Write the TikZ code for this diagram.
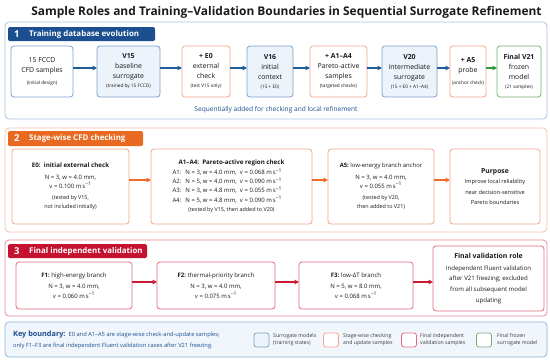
\documentclass[tikz,border=0pt]{standalone}
\usepackage{fontspec}
\setmainfont{Open Sans}
\usetikzlibrary{arrows.meta,calc}
\definecolor{hBlue}{HTML}{1B4F8F}
\definecolor{hOrange}{HTML}{E8691F}
\definecolor{hRed}{HTML}{C4122F}
\definecolor{bBlue}{HTML}{7AA0CC}
\definecolor{fBlue}{HTML}{EDF3FA}
\definecolor{pBlue}{HTML}{A9C3E0}
\definecolor{bOrange}{HTML}{F5A48A}
\definecolor{pOrange}{HTML}{F7C4AE}
\definecolor{bRed}{HTML}{E46A80}
\definecolor{pRed}{HTML}{E88A99}
\definecolor{bGreen}{HTML}{72B072}
\definecolor{aBlue}{HTML}{1E5C9E}
\definecolor{aOrange}{HTML}{F06A28}
\definecolor{aRed}{HTML}{CC1B35}
\definecolor{aGreen}{HTML}{2F9A3C}
\definecolor{txt}{HTML}{1A1A1A}
\definecolor{lgFill}{HTML}{F1F6FC}
\definecolor{lgBorder}{HTML}{8FB3D9}
\newcommand\smtxt[1]{{\fontsize{4.7}{6}\selectfont #1}}
\newcommand\msu{m\,s\textsuperscript{−1}}
\begin{document}
\begin{tikzpicture}[x=1pt,y=-1pt,
  panel/.style={draw, rounded corners=4pt, line width=0.8pt, inner sep=0pt, outer sep=0pt, anchor=north west},
  hdr/.style={rounded corners=1.5pt, inner sep=0pt, outer sep=0pt, anchor=north west},
  hnum/.style={anchor=west, text=white, font=\fontsize{9.5}{10}\selectfont\bfseries, inner sep=0pt},
  htxt/.style={anchor=west, text=white, font=\fontsize{7.9}{10}\selectfont\bfseries, inner sep=0pt},
  bx/.style={draw, rounded corners=3pt, line width=0.8pt, inner sep=1pt, outer sep=0pt, align=center, text=txt},
  r1/.style={bx, minimum height=51pt, font=\fontsize{6.9}{10}\selectfont},
  r2/.style={bx, minimum height=75pt, font=\fontsize{6}{9.2}\selectfont},
  r3/.style={bx, minimum height=47pt, font=\fontsize{6}{9.5}\selectfont},
  sur/.style={draw=bBlue, fill=fBlue},
  chk/.style={draw=bOrange, fill=white},
  val/.style={draw=bRed, fill=white},
  fin/.style={draw=bGreen, fill=white},
  arr/.style={-{Triangle[length=4.5pt,width=4.5pt]}, line width=1.1pt},
  sw/.style={draw, rounded corners=2.5pt, line width=0.8pt, minimum width=15pt, minimum height=14pt, inner sep=0pt},
  lg/.style={anchor=west, align=left, inner sep=0pt, text=txt!85, font=\fontsize{5.2}{6.8}\selectfont}
]
\useasboundingbox (0,0) rectangle (550,362);
\fill[white] (0,0) rectangle (550,362);

% title
\node[font=\fontsize{11.95}{14}\selectfont\bfseries, text=txt] (title) at (286.5,12) {Sample Roles and Training–Validation Boundaries in Sequential Surrogate Refinement};

% panels
\node[panel, draw=pBlue, fill=white, minimum width=542pt, minimum height=97pt] (p1) at (5,22) {};
\node[panel, draw=pOrange, fill=white, minimum width=542pt, minimum height=104pt] (p2) at (5,128) {};
\node[panel, draw=pRed, fill=white, minimum width=542pt, minimum height=76pt] (p3) at (5,240) {};
\node[panel, draw=lgBorder, fill=lgFill, minimum width=542pt, minimum height=35pt] (p4) at (5,322) {};

% headers
\node[hdr, fill=hBlue, minimum width=147pt, minimum height=14pt] (h1) at (8,27) {};
\node[hnum] (h1n) at (14,34) {1};
\node[htxt] (h1t) at (29,34) {Training database evolution};

\node[hdr, fill=hOrange, minimum width=135pt, minimum height=15pt] (h2) at (8,131) {};
\node[hnum] (h2n) at (14,138.5) {2};
\node[htxt] (h2t) at (29,138.5) {Stage-wise CFD checking};

\node[hdr, fill=hRed, minimum width=139pt, minimum height=14pt] (h3) at (8,244) {};
\node[hnum] (h3n) at (14,251) {3};
\node[htxt] (h3t) at (29,251) {Final independent validation};

% row 1
\node[r1, draw=bBlue, fill=white, minimum width=62pt] (b1) at (42,71.5) {15 FCCD\\CFD samples\\[2pt]\smtxt{(initial design)}};
\node[r1, sur, minimum width=63pt] (b2) at (128.5,71.5) {\textbf{V15}\\baseline\\surrogate\\[-1pt]\smtxt{(trained by 15 FCCD)}};
\node[r1, chk, minimum width=48pt] (b3) at (206,71.5) {\textbf{+ E0}\\external\\check\\[-1pt]\smtxt{(test V15 only)}};
\node[r1, sur, minimum width=46pt] (b4) at (270,71.5) {\textbf{V16}\\initial\\context\\[-1pt]\smtxt{(15 + E0)}};
\node[r1, chk, minimum width=57pt] (b5) at (338.5,71.5) {\textbf{+ A1–A4}\\Pareto-active\\samples\\[-1pt]\smtxt{(targeted checks)}};
\node[r1, sur, minimum width=55pt] (b6) at (409.5,71.5) {\textbf{V20}\\intermediate\\surrogate\\[-1pt]\smtxt{(15 + E0 + A1–A4)}};
\node[r1, chk, minimum width=36pt] (b7) at (468,71.5) {\textbf{+ A5}\\probe\\[2pt]\smtxt{(anchor check)}};
\node[r1, fin, minimum width=44pt] (b8) at (519,71.5) {\textbf{Final V21}\\frozen\\model\\[-1pt]\smtxt{(21 samples)}};

\foreach \a/\b in {b1/b2,b2/b3,b3/b4,b4/b5,b5/b6,b6/b7}
  \draw[arr, aBlue] ([yshift=3.5pt]\a.east) -- ([yshift=3.5pt]\a.east -| \b.west);
\draw[arr, aGreen] ([yshift=3.5pt]b7.east) -- ([yshift=3.5pt]b7.east -| b8.west);

\node[text=hBlue, font=\fontsize{6.6}{8}\selectfont] (seq) at (276,110) {Sequentially added for checking and local refinement};

% row 2
\node[r2, chk, minimum width=117pt] (e0) at (70.5,186.5) {{\fontsize{6.2}{9}\selectfont\bfseries E0:\ \ initial external check}\\[2pt]N = 3, w = 4.0 mm,\\v = 0.100 \msu\\[2pt]{\fontsize{5.4}{9.2}\selectfont (tested by V15,}\\{\fontsize{5.4}{9.2}\selectfont not included initially)}};
\node[r2, chk, minimum width=161pt] (a14) at (231.5,186.5) {\begin{tabular}{@{}l@{\hspace{4pt}}l@{}}
\multicolumn{2}{c}{\fontsize{6.2}{9}\selectfont\bfseries A1–A4:\ \ Pareto-active region check}\\[0.5pt]
A1: & N = 3, w = 4.0 mm,\ \ v = 0.068 \msu\\
A2: & N = 5, w = 4.0 mm,\ \ v = 0.090 \msu\\
A3: & N = 3, w = 4.8 mm,\ \ v = 0.055 \msu\\
A4: & N = 5, w = 4.8 mm,\ \ v = 0.090 \msu\\[0.5pt]
\multicolumn{2}{c}{\fontsize{5.4}{9}\selectfont (tested by V15, then added to V20)}
\end{tabular}};
\node[r2, chk, minimum width=106pt] (a5) at (381,186.5) {{\fontsize{5.9}{9}\selectfont\textbf{A5:}\ low-energy branch anchor}\\[2pt]N = 3, w = 4.0 mm,\\v = 0.055 \msu\\[2pt]{\fontsize{5.4}{9.2}\selectfont (tested by V20,}\\{\fontsize{5.4}{9.2}\selectfont then added to V21)}};
\node[r2, chk, minimum width=90pt, font=\fontsize{5.6}{10.5}\selectfont] (pur) at (495,186.5) {{\fontsize{6.8}{10}\selectfont\bfseries Purpose}\\Improve local reliability\\near decision-sensitive\\Pareto boundaries};

\draw[arr, aOrange] ([yshift=6.5pt]e0.east) -- ([yshift=6.5pt]e0.east -| a14.west);
\draw[arr, aOrange] ([yshift=6.5pt]a14.east) -- ([yshift=6.5pt]a14.east -| a5.west);
\draw[arr, aOrange] ([yshift=6.5pt]a5.east) -- ([yshift=6.5pt]a5.east -| pur.west);

% row 3
\node[r3, val, minimum width=116pt] (f1) at (74,285.5) {{\fontsize{6.1}{9}\selectfont\textbf{F1:}\ high-energy branch}\\[2pt]N = 3, w = 4.0 mm,\\v = 0.060 \msu};
\node[r3, val, minimum width=118pt] (f2) at (216,285.5) {{\fontsize{6.1}{9}\selectfont\textbf{F2:}\ thermal-priority branch}\\[2pt]N = 3, w = 4.0 mm,\\v = 0.075 \msu};
\node[r3, val, minimum width=114pt] (f3) at (356,285.5) {{\fontsize{6.1}{9}\selectfont\textbf{F3:}\ low-ΔT branch}\\[2pt]N = 5, w = 8.0 mm,\\v = 0.068 \msu};
\node[bx, val, minimum width=111pt, minimum height=65pt, font=\fontsize{6.1}{10.6}\selectfont] (role) at (488.5,278.5) {{\fontsize{6.9}{10}\selectfont\bfseries Final validation role}\\[1pt]Independent Fluent validation\\after V21 freezing; excluded\\from all subsequent model\\updating};

\draw[arr, aRed] ([yshift=3.5pt]f1.east) -- ([yshift=3.5pt]f1.east -| f2.west);
\draw[arr, aRed] ([yshift=3.5pt]f2.east) -- ([yshift=3.5pt]f2.east -| f3.west);
\draw[arr, aRed] ([yshift=3.5pt]f3.east) -- ([yshift=3.5pt]f3.east -| role.west);

% legend
\node[anchor=west, inner sep=0pt, align=left, text=hBlue, font=\fontsize{5.75}{11}\selectfont] (key) at (13,339.5)
 {{\fontsize{7.3}{9}\selectfont\bfseries Key boundary:}\ \ E0 and A1–A5 are stage-wise check-and-update samples;\\only F1–F3 are final independent Fluent validation cases after V21 freezing.};
\node[sw, draw=bBlue, fill=fBlue] (s1) at (261.5,340) {};
\node[lg] (l1) at (273,340) {Surrogate models\\(training states)};
\node[sw, draw=bOrange, fill=white] (s2) at (331,340) {};
\node[lg] (l2) at (343,340) {Stage-wise checking\\and update samples};
\node[sw, draw=bRed, fill=white] (s3) at (409,340) {};
\node[lg] (l3) at (420,340) {Final independent\\validation samples};
\node[sw, draw=bGreen, fill=white] (s4) at (484,340) {};
\node[lg] (l4) at (497,340) {Final frozen\\surrogate model};
\end{tikzpicture}
\end{document}
